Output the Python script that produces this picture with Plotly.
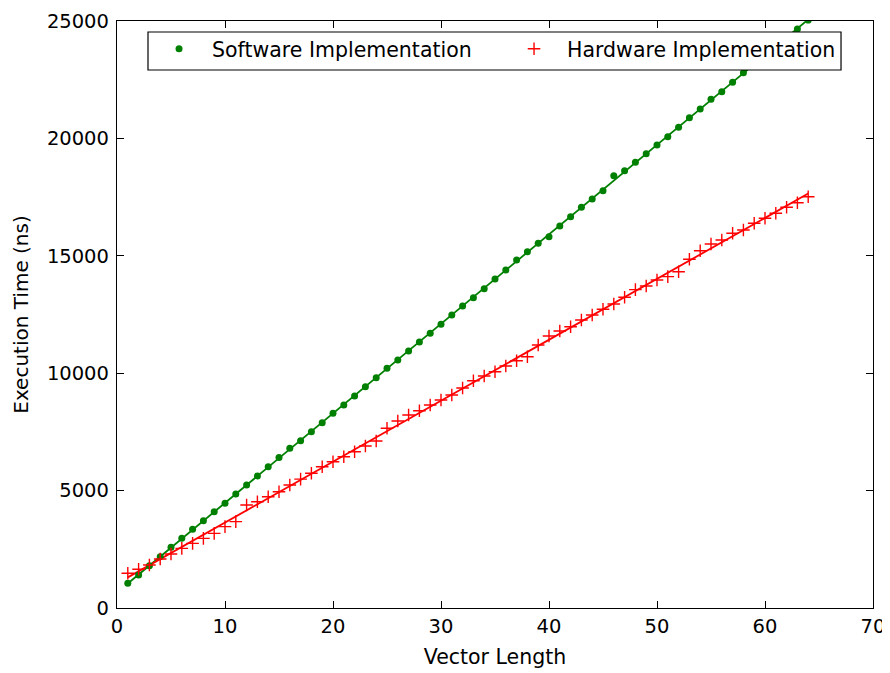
import numpy as np
import plotly.graph_objects as go

vector_length = list(range(1, 65))

software_ns = [1052, 1405, 1802, 2185, 2585, 2968, 3352, 3718, 4101, 4459,
               4855, 5239, 5622, 6015, 6410, 6802, 7125, 7509, 7892, 8292,
               8646, 9029, 9425, 9809, 10209, 10562, 10946, 11329, 11699, 12083,
               12479, 12862, 13210, 13595, 14012, 14395, 14821, 15175, 15532, 15814,
               16269, 16665, 17066, 17419, 17773, 18412, 18625, 18982, 19350, 19719,
               20073, 20473, 20882, 21252, 21665, 21990, 22389, 22798, 23170, 23545,
               23915, 24290, 24660, 25040]

hardware_ns = [1480, 1648, 1831, 2087, 2300, 2541, 2754, 2967, 3180, 3464,
               3677, 4387, 4528, 4741, 4954, 5238, 5490, 5737, 6018, 6231,
               6444, 6657, 6900, 7113, 7653, 7964, 8220, 8403, 8646, 8859,
               9072, 9370, 9681, 9881, 10064, 10307, 10533, 10703, 11201, 11584,
               11797, 11980, 12266, 12479, 12722, 12947, 13233, 13560, 13714, 13969,
               14111, 14323, 14851, 15218, 15503, 15673, 15958, 16099, 16384, 16597,
               16810, 17066, 17262, 17517]

x_ticks = [0, 10, 20, 30, 40, 50, 60, 70]
y_ticks = [0, 5000, 10000, 15000, 20000, 25000]

series_names = ["Software Implementation", "Hardware Implementation"]

GREEN = "#008000"
RED = "#ff0000"
FONT = "DejaVu Sans"
NB = "\u00a0\u00a0"

x = np.array(vector_length, dtype=float)
sw_fit = np.polyval(np.polyfit(x, software_ns, 1), x)
hw_fit = np.polyval(np.polyfit(x, hardware_ns, 1), x)

fig = go.Figure()
fig.add_trace(go.Scatter(x=vector_length, y=sw_fit, mode="lines",
                         line=dict(color=GREEN, width=1.8), showlegend=False, hoverinfo="skip"))
fig.add_trace(go.Scatter(x=vector_length, y=hw_fit, mode="lines",
                         line=dict(color=RED, width=1.8), showlegend=False, hoverinfo="skip"))
fig.add_trace(go.Scatter(x=vector_length, y=software_ns, mode="markers",
                         name=NB + series_names[0],
                         marker=dict(color=GREEN, size=7, symbol="circle", line=dict(width=0))))
fig.add_trace(go.Scatter(x=vector_length, y=hardware_ns, mode="markers",
                         name=NB + series_names[1],
                         marker=dict(color=RED, size=9, symbol="cross-thin",
                                     line=dict(color=RED, width=1.4))))

axis_common = dict(showline=True, linecolor="black", linewidth=1.3, mirror="allticks",
                   ticks="inside", ticklen=7, tickwidth=1.2, tickcolor="black",
                   showgrid=False, zeroline=False,
                   tickfont=dict(family=FONT, size=19.5, color="black"))

fig.update_xaxes(range=[0, 70], tickvals=x_ticks, ticktext=[str(v) for v in x_ticks],
                 title=dict(text="Vector Length", font=dict(family=FONT, size=20.5, color="black"), standoff=13),
                 **axis_common)
fig.update_yaxes(range=[0, 25000], tickvals=y_ticks, ticktext=[str(v) for v in y_ticks],
                 ticklabelstandoff=3,
                 title=dict(text="Execution Time (ns)", font=dict(family=FONT, size=20, color="black"), standoff=12),
                 **axis_common)

# legend frame (opaque, drawn over the data like the reference)
fig.add_shape(type="rect", xref="paper", yref="paper", x0=0.041, x1=0.9577, y0=0.9165, y1=0.9813,
              fillcolor="white", line=dict(color="black", width=1.2), layer="above")

fig.update_layout(
    width=882, height=665,
    margin=dict(l=109, r=17, t=13, b=65, autoexpand=False),
    paper_bgcolor="white", plot_bgcolor="white",
    font=dict(family=FONT, size=19, color="black"),
    legend=dict(orientation="h", x=0.0556, y=0.9523, xanchor="left", yanchor="middle",
                bgcolor="rgba(0,0,0,0)", borderwidth=0,
                font=dict(family=FONT, size=20.5, color="black"),
                entrywidth=310, itemsizing="trace"),
)

fig.write_html("out.html")
